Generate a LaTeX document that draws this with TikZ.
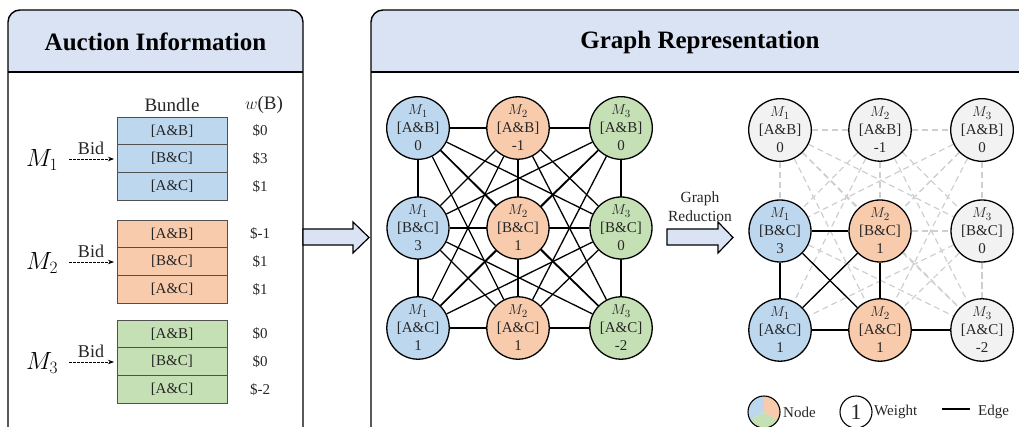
\documentclass[tikz,border=0pt]{standalone}
\usepackage{fontspec}
\setmainfont{Liberation Serif}
\usetikzlibrary{arrows.meta,backgrounds}
\definecolor{hdr}{HTML}{DAE3F3}
\definecolor{cblue}{HTML}{BDD7EE}
\definecolor{corange}{HTML}{F8CBAD}
\definecolor{cgreen}{HTML}{C5E0B4}
\definecolor{cgray}{HTML}{F2F2F2}
\definecolor{cdash}{HTML}{CFCFCF}
\definecolor{boxd}{HTML}{505050}
\definecolor{txt}{HTML}{262626}
\tikzset{
  panel/.style={line width=1.4pt, rounded corners=12pt},
  gnode/.style={circle, draw=black, line width=1.3pt, minimum size=62pt, inner sep=0pt, align=center, font=\fontsize{15}{18}\selectfont, text=txt},
  bbox/.style={rectangle, draw=boxd, line width=0.9pt, minimum width=110pt, minimum height=27.7pt, inner sep=0pt, font=\fontsize{15}{18}\selectfont, text=txt},
  valtxt/.style={font=\fontsize{15}{18}\selectfont, text=txt, inner sep=0pt},
  gedge/.style={line width=1.3pt},
  dedge/.style={cdash, line width=1.2pt, dash pattern=on 6pt off 4pt},
  bidarrow/.style={line width=0.8pt, dash pattern=on 2.5pt off 1.5pt, -{Stealth[length=6pt,width=4.5pt]}},
  blockarrow/.style={fill=hdr, draw=black, line width=1.2pt, line join=miter},
}
\newcommand{\gtext}[3]{$M_{#1}$\\{[#2]}\\#3}
\begin{document}
\begin{tikzpicture}[x=1pt,y=-1pt]
\useasboundingbox (0,0) rectangle (1019,427);
\clip (0,0) rectangle (1019,427);
% panels
\begin{scope}
  \clip (0,0) rectangle (1019,72);
  \fill[hdr, rounded corners=12pt] (8,10) rectangle (303,470);
  \fill[hdr, rounded corners=12pt] (371,10) rectangle (1070,470);
\end{scope}
\draw[panel] (8,10) rectangle (303,470);
\draw[panel] (371,10) rectangle (1070,470);
\draw[line width=1.4pt] (8,72) -- (303,72);
\draw[line width=1.4pt] (371,72) -- (1070,72);
\node[font=\fontsize{25}{30}\selectfont\bfseries] (t1) at (155.5,42) {Auction Information};
\node[font=\fontsize{25}{30}\selectfont\bfseries] (t2) at (700,42) {Graph Representation};

% auction info
\node[font=\fontsize{19}{22}\selectfont, text=txt] (hb) at (172,105) {Bundle};
\node[font=\fontsize{19}{22}\selectfont, text=txt] (hw) at (264,105) {$w$(B)};
\foreach \i/\T/\col/\va/\vb/\vc in {1/117/cblue/0/3/1, 2/220/corange/-1/1/1, 3/320/cgreen/0/0/-2} {
  \node[bbox, fill=\col] (b\i1) at (172,\T+13.85) {[A\&B]};
  \node[bbox, fill=\col] (b\i2) at (172,\T+41.55) {[B\&C]};
  \node[bbox, fill=\col] (b\i3) at (172,\T+69.25) {[A\&C]};
  \node[valtxt] (v\i1) at (260,\T+13.85) {\$\va};
  \node[valtxt] (v\i2) at (260,\T+41.55) {\$\vb};
  \node[valtxt] (v\i3) at (260,\T+69.25) {\$\vc};
  \node[font=\fontsize{24}{28}\selectfont] (m\i) at (42,\T+43) {$M_{\i}$};
  \node[font=\fontsize{18}{21}\selectfont, text=txt] (bid\i) at (91,\T+31) {Bid};
  \coordinate (s\i) at (69,\T+42);
  \coordinate (e\i) at (114,\T+42);
  \draw[bidarrow] (s\i) -- (e\i);
}

% arrows between panels
\draw[blockarrow] (303,229) -- (353,229) -- (353,222) -- (369,237.5) -- (353,253) -- (353,245) -- (303,245) -- cycle;
\draw[blockarrow] (667,229) -- (718,229) -- (718,222) -- (733,237.5) -- (718,253) -- (718,245) -- (667,245) -- cycle;
\node[font=\fontsize{15.5}{19}\selectfont, align=center, text=txt] (gr) at (700,207) {Graph\\Reduction};

% left graph
\node[gnode, fill=cblue]   (L11) at (418,128) {\gtext{1}{A\&B}{0}};
\node[gnode, fill=corange] (L21) at (518,128) {\gtext{2}{A\&B}{-1}};
\node[gnode, fill=cgreen]  (L31) at (621,128) {\gtext{3}{A\&B}{0}};
\node[gnode, fill=cblue]   (L12) at (418,228) {\gtext{1}{B\&C}{3}};
\node[gnode, fill=corange] (L22) at (518,228) {\gtext{2}{B\&C}{1}};
\node[gnode, fill=cgreen]  (L32) at (621,228) {\gtext{3}{B\&C}{0}};
\node[gnode, fill=cblue]   (L13) at (418,328) {\gtext{1}{A\&C}{1}};
\node[gnode, fill=corange] (L23) at (518,328) {\gtext{2}{A\&C}{1}};
\node[gnode, fill=cgreen]  (L33) at (621,328) {\gtext{3}{A\&C}{-2}};
\begin{scope}[on background layer]
\foreach \a [count=\i] in {L11,L21,L31,L12,L22,L32,L13,L23,L33} {
  \foreach \b [count=\j] in {L11,L21,L31,L12,L22,L32,L13,L23,L33} {
    \ifnum\i<\j \draw[gedge] (\a) -- (\b); \fi
  }
}
\end{scope}

% right graph
\node[gnode, fill=cgray]   (R11) at (780,130) {\gtext{1}{A\&B}{0}};
\node[gnode, fill=cgray]   (R21) at (880,130) {\gtext{2}{A\&B}{-1}};
\node[gnode, fill=cgray]   (R31) at (982,130) {\gtext{3}{A\&B}{0}};
\node[gnode, fill=cblue]   (R12) at (780,231) {\gtext{1}{B\&C}{3}};
\node[gnode, fill=corange] (R22) at (880,231) {\gtext{2}{B\&C}{1}};
\node[gnode, fill=cgray]   (R32) at (982,231) {\gtext{3}{B\&C}{0}};
\node[gnode, fill=cblue]   (R13) at (780,330) {\gtext{1}{A\&C}{1}};
\node[gnode, fill=corange] (R23) at (880,330) {\gtext{2}{A\&C}{1}};
\node[gnode, fill=cgray]   (R33) at (982,330) {\gtext{3}{A\&C}{-2}};
\begin{scope}[on background layer]
\foreach \a [count=\i] in {R11,R21,R31,R12,R22,R32,R13,R23,R33} {
  \foreach \b [count=\j] in {R11,R21,R31,R12,R22,R32,R13,R23,R33} {
    \ifnum\i<\j \draw[dedge] (\a) -- (\b); \fi
  }
}
\draw[gedge] (R12) -- (R22);
\draw[gedge] (R12) -- (R13);
\draw[gedge] (R22) -- (R23);
\draw[gedge] (R13) -- (R23);
\draw[gedge] (R23) -- (R33);
\draw[gedge] (R12) -- (R23);
\draw[gedge] (R22) -- (R13);
\end{scope}

% legend
\begin{scope}[shift={(764,412)}, y=1pt]
  \fill[cblue]   (0,0) -- (90:16) arc[start angle=90, end angle=210, radius=16] -- cycle;
  \fill[cgreen]  (0,0) -- (210:16) arc[start angle=210, end angle=330, radius=16] -- cycle;
  \fill[corange] (0,0) -- (330:16) arc[start angle=330, end angle=450, radius=16] -- cycle;
\end{scope}
\node[circle, draw=black, line width=1.1pt, minimum size=32pt, inner sep=0pt] (lgn) at (764,412) {};
\node[valtxt, anchor=west] (lgnt) at (783,412) {Node};
\node[circle, draw=black, line width=1.1pt, minimum size=32pt, inner sep=0pt, font=\fontsize{22}{24}\selectfont, text=txt] (lgw) at (856,412) {1};
\node[valtxt, anchor=west] (lgwt) at (874,412) {Weight};
\coordinate (le1) at (942,409);
\coordinate (le2) at (970,409);
\draw[line width=1.5pt] (le1) -- (le2);
\node[valtxt, anchor=west] (lget) at (978,412) {Edge};
\end{tikzpicture}
\end{document}
